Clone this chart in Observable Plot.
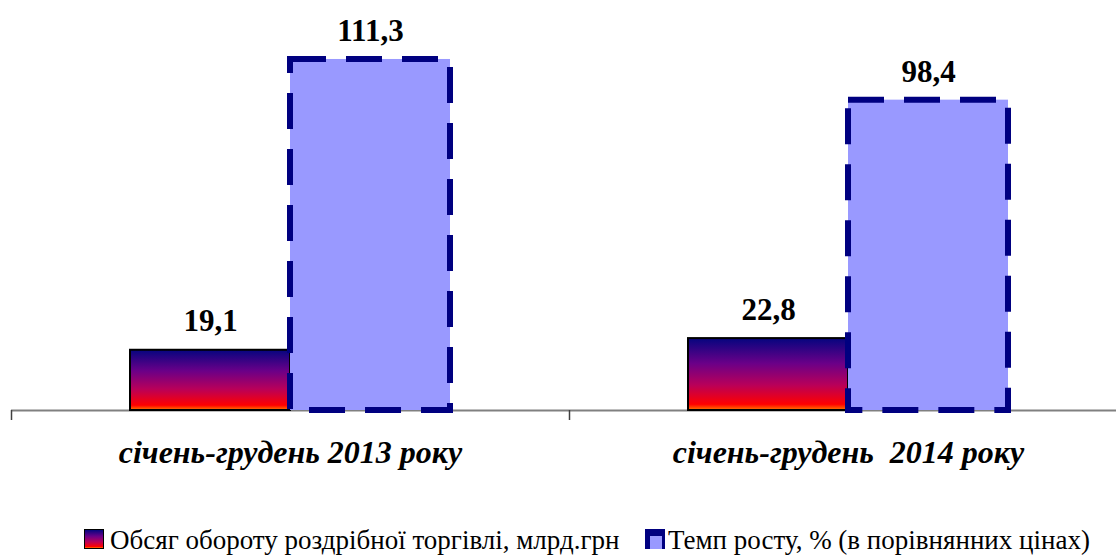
<!DOCTYPE html>
<html>
<head>
<meta charset="utf-8">
<script src="https://cdn.jsdelivr.net/npm/d3@7"></script>
<script src="https://cdn.jsdelivr.net/npm/@observablehq/plot@0.6"></script>
<style>
  body { margin: 0; background: white; width: 1116px; height: 555px; overflow: hidden; position: relative; font-family: "Liberation Serif", serif; }
  #chart svg text { white-space: pre; font-family: "Liberation Serif", serif; }
  .legend { position: absolute; top: 527px; left: 0; width: 1116px; height: 28px; font-size: 27px; line-height: 27px; color: #000; font-family: "Liberation Serif", serif; }
  .item { position: absolute; top: 0; white-space: nowrap; }
  .sw { position: absolute; top: 2px; width: 20px; height: 20px; box-sizing: border-box; }
  .sw2 { background: #000080; }
  .sw2 i { position: absolute; left: 5px; top: 7px; width: 12px; height: 13px; background: #9999ff; }
</style>
</head>
<body>
<div id="chart"></div>
<div class="legend" id="legend"></div>
<script>
const categories = ["січень-грудень 2013 року", "січень-грудень  2014 року"];
const turnover = [19.1, 22.8];
const growth = [111.3, 98.4];
const seriesNames = ["Обсяг обороту роздрібної торгівлі, млрд.грн", "Темп росту, % (в порівнянних цінах)"];

const data1 = categories.map((c, i) => ({cat: c, v: turnover[i]}));
const data2 = categories.map((c, i) => ({cat: c, v: growth[i]}));
const fmt = v => d3.format(".1f")(v).replace(".", ",");
const FONT = "Liberation Serif";

const defs = () => {
  const g = d3.create("svg:defs");
  const lg = g.append("linearGradient").attr("id", "grad1").attr("x1", 0).attr("y1", 0).attr("x2", 0).attr("y2", 1);
  [[0, "#05057f"], [0.35, "#6a0088"], [0.65, "#b8005a"], [0.92, "#ff0000"], [1, "#ff7a00"]].forEach(([o, c]) =>
    lg.append("stop").attr("offset", o).attr("stop-color", c));
  return g.node();
};

const chart = Plot.plot({
  width: 1116,
  height: 520,
  marginTop: 0,
  marginLeft: 11,
  marginRight: -11,
  marginBottom: 110,
  style: {fontFamily: FONT, background: "white", color: "black", overflow: "hidden"},
  x: {domain: categories, range: [11, 1127], padding: 0, axis: null, label: null},
  y: {domain: [0, 130], axis: null},
  marks: [
    defs,
    Plot.ruleY([0], {stroke: "#808080", strokeWidth: 2}),
    Plot.axisX({tickSize: 10, tickFormat: () => "", label: null, dx: -279, stroke: "#404040", strokeWidth: 1.5}),
    Plot.barY(data1, {x: "cat", y: "v", fill: "url(#grad1)", stroke: "black", strokeWidth: 2, insetLeft: 119, insetRight: 279}),
    Plot.barY(data2, {x: "cat", y: "v", fill: "#9999ff", stroke: "#000080", strokeWidth: 6, strokeDasharray: "36,20", insetLeft: 279, insetRight: 119}),
    Plot.text(data1, {x: "cat", y: "v", text: d => fmt(d.v), dx: -80, dy: -19, lineAnchor: "bottom", fontSize: 31, fontWeight: "bold", fontFamily: FONT, fill: "black"}),
    Plot.text(data2, {x: "cat", y: "v", text: d => fmt(d.v), dx: 80, dy: -18, lineAnchor: "bottom", fontSize: 31, fontWeight: "bold", fontFamily: FONT, fill: "black"}),
    Plot.axisX({tickSize: 0, tickPadding: 30, label: null, fontSize: 32, fontWeight: "bold", fontStyle: "italic", fontFamily: FONT, fill: "black"})
  ]
});
document.getElementById("chart").appendChild(chart);

const legend = document.getElementById("legend");
const items = [
  {name: seriesNames[0], swLeft: 84, textLeft: 110, sw: `<span class="sw" style="left:84px;background:linear-gradient(#05057f, #6a0088 35%, #b8005a 65%, #ff0000 92%, #ff7a00);border:1.5px solid #000;"></span>`},
  {name: seriesNames[1], swLeft: 645, textLeft: 668, sw: `<span class="sw sw2" style="left:645px;"><i></i></span>`}
];
items.forEach(it => {
  const s = document.createElement("div");
  s.innerHTML = it.sw;
  legend.appendChild(s.firstChild);
  const t = document.createElement("div");
  t.className = "item";
  t.style.left = it.textLeft + "px";
  t.textContent = it.name;
  legend.appendChild(t);
});
</script>
</body>
</html>
